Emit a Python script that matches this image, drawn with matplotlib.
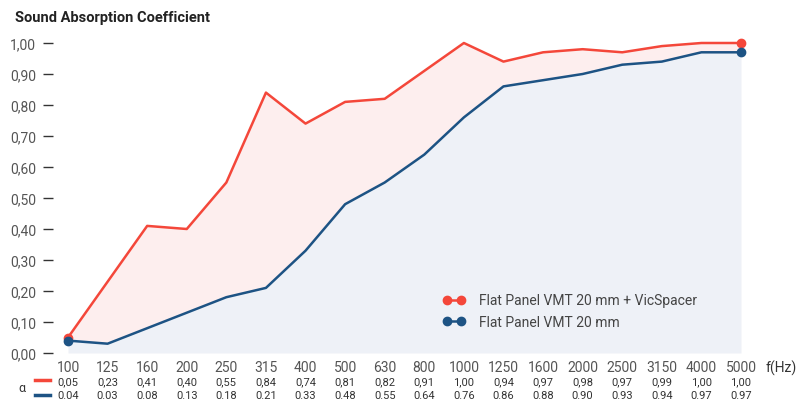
import matplotlib
matplotlib.use("Agg")
import matplotlib.pyplot as plt
import numpy as np

freqs = ["100", "125", "160", "200", "250", "315", "400", "500", "630", "800",
         "1000", "1250", "1600", "2000", "2500", "3150", "4000", "5000"]
alpha_spacer = [0.05, 0.23, 0.41, 0.40, 0.55, 0.84, 0.74, 0.81, 0.82, 0.91,
                1.00, 0.94, 0.97, 0.98, 0.97, 0.99, 1.00, 1.00]
alpha_panel = [0.04, 0.03, 0.08, 0.13, 0.18, 0.21, 0.33, 0.48, 0.55, 0.64,
               0.76, 0.86, 0.88, 0.90, 0.93, 0.94, 0.97, 0.97]
series_labels = ["Flat Panel VMT 20 mm + VicSpacer", "Flat Panel VMT 20 mm"]
y_ticks = [0.0, 0.1, 0.2, 0.3, 0.4, 0.5, 0.6, 0.7, 0.8, 0.9, 1.0]

RED = "#f4473a"
BLUE = "#1d5384"
TXT = "#555555"

plt.rcParams["font.family"] = ["Roboto", "DejaVu Sans"]

W, H = 799, 402
fig = plt.figure(figsize=(W / 100, H / 100), dpi=100)
x0, x1, y0, y1 = 68, 741, 354, 44
ax = fig.add_axes([x0 / W, 1 - y0 / H, (x1 - x0) / W, (y0 - y1) / H])

x = np.arange(len(freqs))
ends = [0, len(x) - 1]
ax.fill_between(x, 0, alpha_panel, color="#eef1f7", lw=0)
ax.fill_between(x, alpha_panel, alpha_spacer, color="#fdeeee", lw=0)
for vals, col, lab in [(alpha_spacer, RED, series_labels[0]),
                       (alpha_panel, BLUE, series_labels[1])]:
    ax.plot(x, vals, color=col, lw=1.8, zorder=3, clip_on=False)
    ax.plot(x[ends], np.array(vals)[ends], "o", color=col, ms=6, zorder=4, clip_on=False)
    ax.plot([], [], color=col, lw=1.8, marker="o", ms=6, label=lab)

ax.set_xlim(0, len(x) - 1)
ax.set_ylim(0, 1.0)
for s in ["top", "right", "bottom"]:
    ax.spines[s].set_visible(False)
ax.spines["left"].set_position(("outward", 11))
ax.spines["left"].set_visible(False)
ax.set_yticks(y_ticks)
ax.set_yticklabels([f"{v:.2f}".replace(".", ",") for v in y_ticks])
ax.tick_params(axis="y", length=7, width=1, color="#333333", pad=5,
               labelsize=10, labelcolor=TXT)
ax.set_xticks([])

fig.text(15 / W, 1 - 18 / H, "Sound Absorption Coefficient", fontsize=10.5,
         fontweight="bold", color="#222222", va="center")

# table below the chart
for i, f in enumerate(freqs):
    xf = ax.transData.transform((i, 0))[0] / W
    fig.text(xf, 1 - 368 / H, f, ha="center", va="center", fontsize=10, color=TXT)
    fig.text(xf, 1 - 382 / H, f"{alpha_spacer[i]:.2f}".replace(".", ","),
             ha="center", va="center", fontsize=8, color="#333333")
    fig.text(xf, 1 - 396 / H, f"{alpha_panel[i]:.2f}",
             ha="center", va="center", fontsize=8, color="#333333")
fig.text(781 / W, 1 - 368 / H, "f(Hz)", ha="center", va="center", fontsize=10, color="#333333")
fig.text(22 / W, 1 - 389 / H, "α", ha="center", va="center", fontsize=9, color="#333333")
fig.add_artist(plt.Line2D([35 / W, 50 / W], [1 - 381 / H] * 2, color=RED, lw=2.5))
fig.add_artist(plt.Line2D([35 / W, 50 / W], [1 - 396 / H] * 2, color=BLUE, lw=2.5))

ax.legend(loc="upper left", bbox_to_anchor=(430 / W, 1 - 282 / H),
          bbox_transform=fig.transFigure, frameon=False, fontsize=10,
          numpoints=2, handlelength=1.6, handletextpad=1.0, labelspacing=0.55,
          labelcolor="#444444")

fig.savefig("out.png", dpi=100)
